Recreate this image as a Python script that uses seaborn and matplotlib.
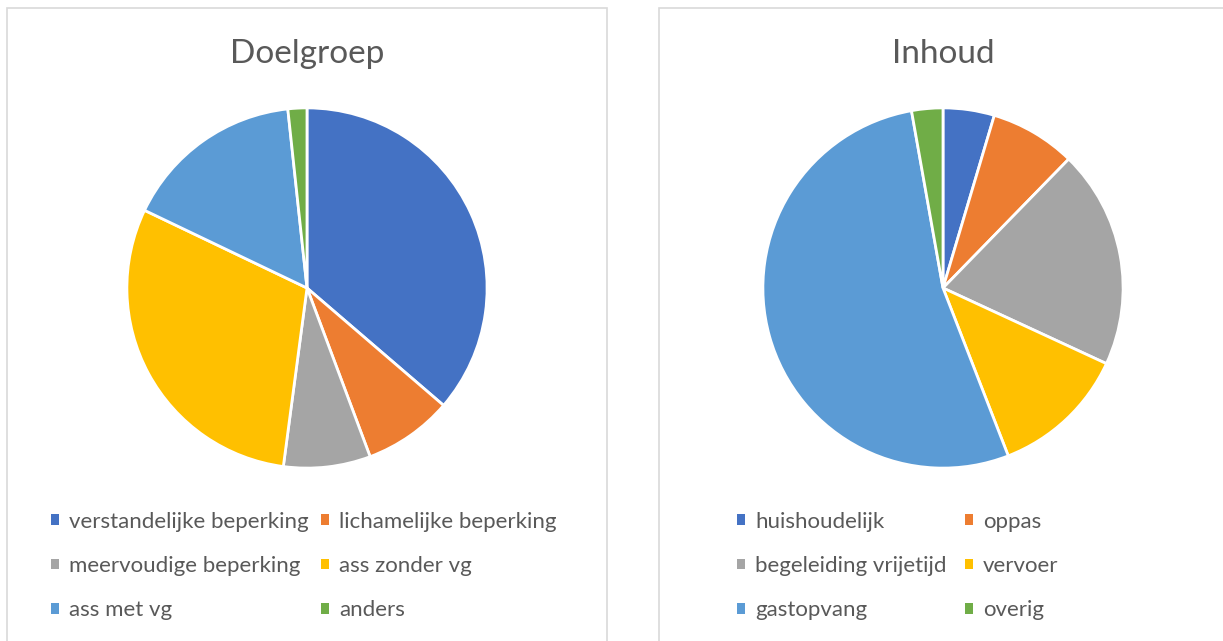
import matplotlib
matplotlib.use('Agg')
import matplotlib.pyplot as plt
import seaborn as sns
from matplotlib.patches import Patch, Rectangle

doelgroep_labels = ['verstandelijke beperking', 'lichamelijke beperking', 'meervoudige beperking',
                    'ass zonder vg', 'ass met vg', 'anders']
doelgroep_values = [36.3, 8.0, 7.8, 30.0, 16.2, 1.7]

inhoud_labels = ['huishoudelijk', 'oppas', 'begeleiding vrijetijd', 'vervoer', 'gastopvang', 'overig']
inhoud_values = [4.6, 7.7, 19.6, 12.2, 53.1, 2.8]

sns.set_theme(style='white')
plt.rcParams['font.family'] = ['Lato', 'DejaVu Sans']

colors = ['#4472C4', '#ED7D31', '#A5A5A5', '#FFC000', '#5B9BD5', '#70AD47']
text_color = '#595959'

W, H = 1223, 641
fig = plt.figure(figsize=(W / 100, H / 100), dpi=100)
fig.patch.set_facecolor('white')

# panel borders
fig.patches.append(Rectangle((7 / W, -0.05), 600 / W, 1.05 - 8 / H, transform=fig.transFigure,
                             fill=False, edgecolor='#D9D9D9', linewidth=1.2))
fig.patches.append(Rectangle((659 / W, -0.05), 600 / W, 1.05 - 8 / H, transform=fig.transFigure,
                             fill=False, edgecolor='#D9D9D9', linewidth=1.2))


def draw_panel(cx, title, labels, values, legend_x, colspace):
    r = 181
    ax = fig.add_axes([(cx - r) / W, (H - 288 - r) / H, 2 * r / W, 2 * r / H])
    ax.pie(values, colors=colors, startangle=90, counterclock=False,
           wedgeprops=dict(edgecolor='white', linewidth=2))
    ax.set_xlim(-1.005, 1.005)
    ax.set_ylim(-1.005, 1.005)
    ax.axis('off')
    fig.text(cx / W, 1 - 54 / H, title, ha='center', va='center', fontsize=24, color=text_color)

    handles = [Patch(facecolor=c, edgecolor='none') for c in colors]
    order = [0, 2, 4, 1, 3, 5]
    fig.legend([handles[i] for i in order], [labels[i] for i in order], ncol=2,
               loc='center left', bbox_to_anchor=(legend_x / W, 1 - 566 / H),
               frameon=False, borderpad=0, borderaxespad=0, fontsize=16,
               labelcolor=text_color, handlelength=0.37, handleheight=0.37,
               handletextpad=0.45, columnspacing=colspace, labelspacing=1.1)


draw_panel(307, 'Doelgroep', doelgroep_labels, doelgroep_values, 51, 0.55)
draw_panel(943, 'Inhoud', inhoud_labels, inhoud_values, 737, 0.8)

fig.savefig('out.png', dpi=100)
